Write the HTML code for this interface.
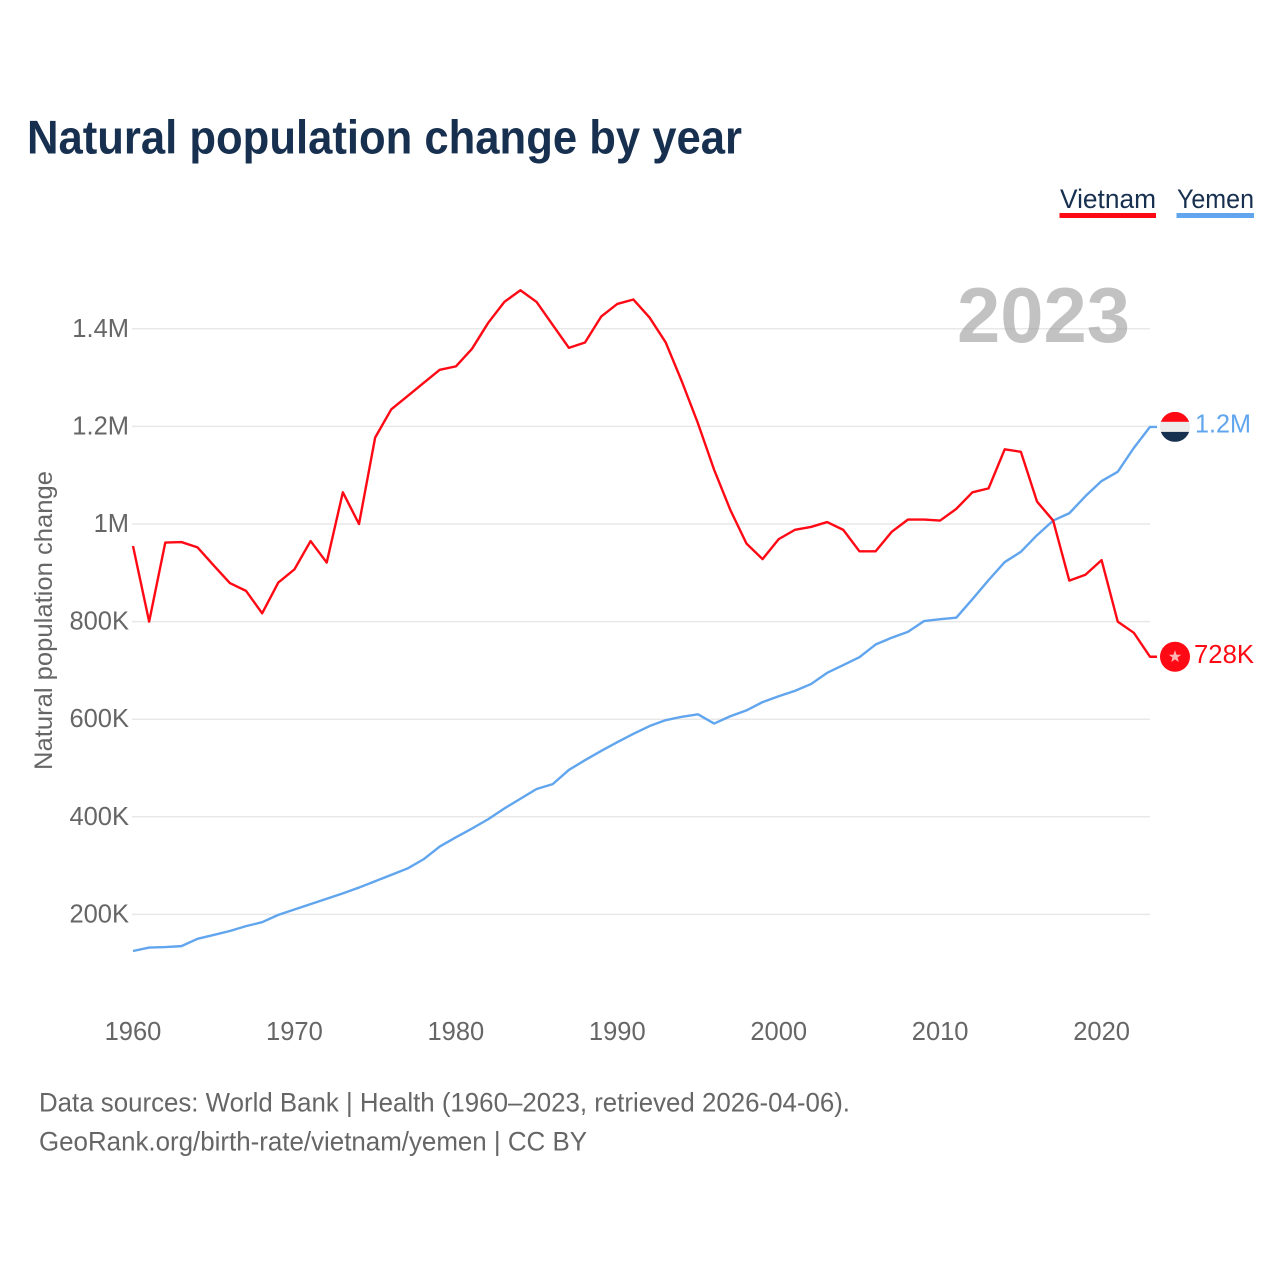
<!DOCTYPE html>
<html lang="en">
<head>
<meta charset="utf-8">
<title>Natural population change by year</title>
<style>
html,body{margin:0;padding:0;background:#fff;}
svg{display:block;font-family:"Liberation Sans",sans-serif;}
</style>
</head>
<body>
<svg id="chart" xmlns="http://www.w3.org/2000/svg" width="1280" height="1280" viewBox="0 0 1280 1280">
  <rect x="0" y="0" width="1280" height="1280" fill="#ffffff"/>
  <text x="27" y="153.5" font-size="47" font-weight="700" fill="#17304f" textLength="715" lengthAdjust="spacingAndGlyphs">Natural population change by year</text>

  <g>
    <text x="1060" y="208" font-size="27" fill="#17304f" textLength="96" lengthAdjust="spacingAndGlyphs">Vietnam</text>
    <rect x="1059.5" y="213" width="96.5" height="5" fill="#ff0a14"/>
  </g>
  <g>
    <text x="1177" y="208" font-size="27" fill="#17304f" textLength="77" lengthAdjust="spacingAndGlyphs">Yemen</text>
    <rect x="1176.5" y="213" width="77.5" height="5" fill="#60a5ee"/>
  </g>

  <g id="grid"></g>

  <text x="957" y="342" font-size="78" font-weight="700" fill="#999999" fill-opacity="0.6" textLength="173" lengthAdjust="spacingAndGlyphs">2023</text>

  <g id="yticks"></g>
  <g id="xticks"></g>
  <text transform="translate(52,770) rotate(-90)" font-size="25" fill="#666666" textLength="299" lengthAdjust="spacingAndGlyphs">Natural population change</text>

  <g id="series"></g>

  <defs>
    <clipPath id="yemen-clip"><circle cx="1175" cy="427" r="15"/></clipPath>
  </defs>
  <g id="marker-vietnam">
    <circle cx="0" cy="0" r="15" fill="#ff0a14"/>
    <polygon points="0,-6.5 1.6,-2 6.2,-2 2.5,0.8 3.8,5.3 0,2.6 -3.8,5.3 -2.5,0.8 -6.2,-2 -1.6,-2" fill="#ffb3b3"/>
  </g>
  <g id="marker-yemen">
    <g clip-path="url(#yemen-clip)">
      <rect x="1160" y="412" width="30" height="10" fill="#ff0a14"/>
      <rect x="1160" y="422" width="30" height="10" fill="#ececec"/>
      <rect x="1160" y="432" width="30" height="10" fill="#17304f"/>
    </g>
  </g>
  <g id="endlabels"></g>

  <text x="39" y="1111.5" font-size="27" fill="#666666" textLength="811" lengthAdjust="spacingAndGlyphs">Data sources: World Bank | Health (1960–2023, retrieved 2026-04-06).</text>
  <text x="39" y="1150.5" font-size="27" fill="#666666" textLength="548" lengthAdjust="spacingAndGlyphs">GeoRank.org/birth-rate/vietnam/yemen | CC BY</text>
</svg>

<script>
const startYear = 1960;
const endYear = 2023;
const yTickValues = [200, 400, 600, 800, 1000, 1200, 1400];
const yTickLabels = ["200K", "400K", "600K", "800K", "1M", "1.2M", "1.4M"];
const xTickValues = [1960, 1970, 1980, 1990, 2000, 2010, 2020];
const xTickLabels = ["1960", "1970", "1980", "1990", "2000", "2010", "2020"];
const vietnamValues = [955, 800, 962, 963, 952, 915, 879, 863, 817, 880, 907, 965, 921, 1065, 1000, 1177, 1235, 1262, 1289, 1316, 1323, 1359, 1412, 1455, 1479, 1455, 1408, 1361, 1372, 1425, 1451, 1460, 1423, 1372, 1292, 1206, 1111, 1029, 960, 928, 969, 988, 994, 1004, 988, 944, 944, 984, 1009, 1009, 1007, 1031, 1065, 1073, 1153, 1148, 1046, 1007, 884, 896, 926, 800, 777, 728];
const yemenValues = [125, 132, 133, 135, 150, 158, 166, 176, 184, 199, 210, 221, 232, 243, 255, 268, 281, 294, 313, 339, 358, 376, 395, 417, 437, 457, 467, 496, 516, 535, 553, 570, 586, 598, 605, 610, 591, 606, 618, 635, 647, 658, 672, 695, 711, 727, 753, 767, 779, 801, 805, 808, 846, 885, 922, 943, 977, 1007, 1022, 1057, 1088, 1107, 1156, 1199];
const vietnamEndLabel = "728K";
const yemenEndLabel = "1.2M";

const NS = "http://www.w3.org/2000/svg";
function xScale(year) {
  return 133 + (year - startYear) * (1150 - 133) / (endYear - startYear);
}
function yScale(value) {
  return 1012 - value * 0.488;
}
function make(tag, attrs, parent, txt) {
  const el = document.createElementNS(NS, tag);
  for (const k in attrs) el.setAttribute(k, attrs[k]);
  if (txt !== undefined) el.textContent = txt;
  parent.appendChild(el);
  return el;
}

const gridGroup = document.getElementById("grid");
const yTickGroup = document.getElementById("yticks");
yTickValues.forEach(function (v, i) {
  const line = make("line", {x1: 132, x2: 1150, y1: yScale(v), y2: yScale(v), stroke: "#e8e8e8", "stroke-width": 1.5}, gridGroup);
  
  
  const label = make("text", {x: 129, y: yScale(v) + 8, "text-anchor": "end", "font-size": 25.5, fill: "#666666"}, yTickGroup, yTickLabels[i]);
  
  
});

const xTickGroup = document.getElementById("xticks");
xTickValues.forEach(function (yr, i) {
  const label = make("text", {x: xScale(yr), y: 1040, "text-anchor": "middle", "font-size": 25.5, fill: "#666666"}, xTickGroup, xTickLabels[i]);
  
  
});

function linePath(values) {
  return values.map(function (v, i) {
    return (i ? "L" : "M") + xScale(startYear + i).toFixed(2) + " " + yScale(v).toFixed(2);
  }).join(" ") + " h7";
}
const seriesGroup = document.getElementById("series");
const yemenLine = make("path", {d: linePath(yemenValues), fill: "none", stroke: "#60a5ee", "stroke-width": 2.4, "stroke-linejoin": "round"}, seriesGroup);


const vietnamLine = make("path", {d: linePath(vietnamValues), fill: "none", stroke: "#ff0a14", "stroke-width": 2.4, "stroke-linejoin": "round"}, seriesGroup);



const vietnamLastY = yScale(vietnamValues[vietnamValues.length - 1]);
const yemenLastY = yScale(yemenValues[yemenValues.length - 1]);
document.getElementById("marker-vietnam").setAttribute("transform", "translate(1175," + vietnamLastY + ")");
document.getElementById("marker-yemen").setAttribute("transform", "translate(0," + (yemenLastY - 427) + ")");

const endGroup = document.getElementById("endlabels");
const vietnamEnd = make("text", {x: 1194, y: vietnamLastY + 6.5, "font-size": 26, fill: "#ff0a14", textLength: 60, lengthAdjust: "spacingAndGlyphs"}, endGroup, vietnamEndLabel);


const yemenEnd = make("text", {x: 1195, y: yemenLastY + 5.5, "font-size": 26, fill: "#60a5ee", textLength: 56, lengthAdjust: "spacingAndGlyphs"}, endGroup, yemenEndLabel);


</script>
</body>
</html>
